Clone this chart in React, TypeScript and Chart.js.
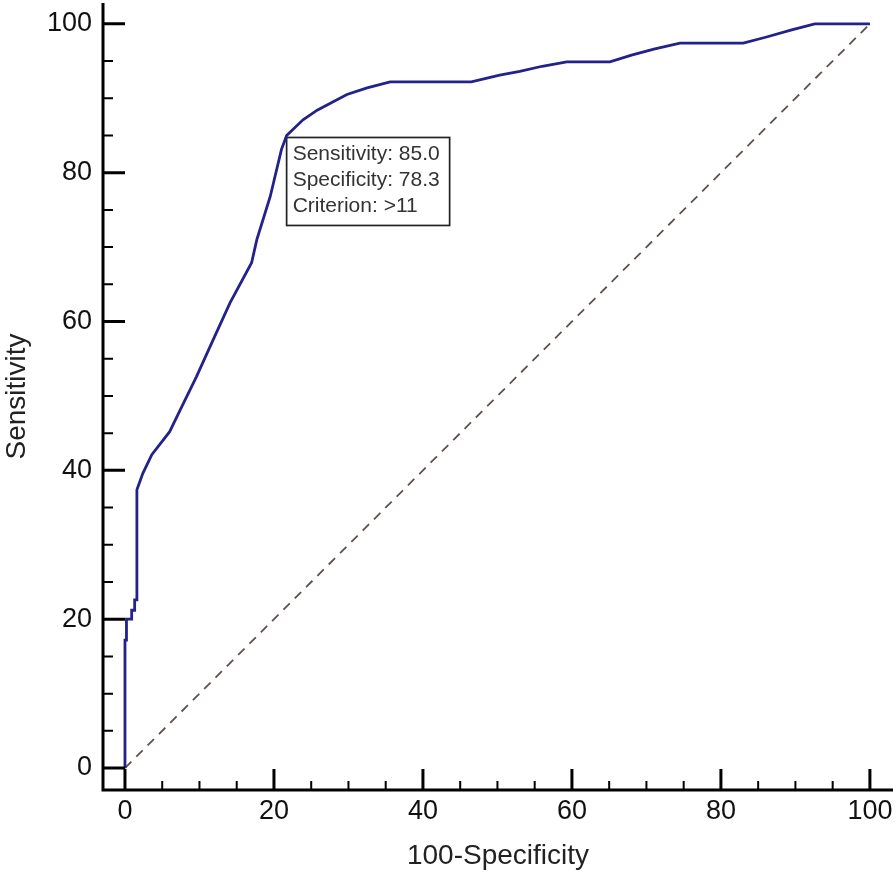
import React, { useEffect, useRef } from "react";
import { Chart, registerables } from "chart.js";

Chart.register(...registerables);

// ROC curve: 100-Specificity (x) vs Sensitivity (y)
const ROC_X = [0, 0, 0.2, 0.2, 0.9, 0.9, 1.3, 1.3, 1.6, 1.6, 2.4, 3.6, 6.0, 7.4, 9.6, 12.0, 14.1, 17.0, 17.7, 19.5, 21.0, 21.7, 23.9, 25.8, 27.7, 29.8, 32.5, 35.6, 46.5, 50.3, 53.0, 56.0, 59.3, 65.1, 68.0, 71.0, 74.5, 83.0, 86.0, 89.5, 92.6, 100];
const ROC_Y = [0, 17.2, 17.2, 20, 20, 21.2, 21.2, 22.6, 22.6, 37.4, 39.6, 42.1, 45.2, 48.1, 52.6, 57.9, 62.5, 67.9, 71.0, 76.8, 83.1, 85.0, 87.1, 88.4, 89.4, 90.5, 91.4, 92.2, 92.2, 93.1, 93.6, 94.3, 94.9, 94.9, 95.8, 96.6, 97.4, 97.4, 98.2, 99.2, 100, 100];

// Reference (chance) line
const DIAG_X = [0, 100];
const DIAG_Y = [0, 100];

// Axis ticks
const MAJOR_TICKS = [0, 20, 40, 60, 80, 100];
const MINOR_TICKS = [5, 10, 15, 25, 30, 35, 45, 50, 55, 65, 70, 75, 85, 90, 95];

// Optimal cut-off annotation
const CUTOFF_SENS = 85.0;
const CUTOFF_SPEC = 78.3;
const CUTOFF_CRITERION = ">11";
const CUTOFF_LINES = [
  `Sensitivity: ${CUTOFF_SENS.toFixed(1)}`,
  `Specificity: ${CUTOFF_SPEC.toFixed(1)}`,
  `Criterion: ${CUTOFF_CRITERION}`,
];

const FONT = "'Liberation Sans', Arial, sans-serif";

const axesPlugin = {
  id: "medcalcAxes",
  beforeDatasetsDraw(chart: any) {
    const { ctx, scales } = chart;
    const xs = scales.x;
    const ys = scales.y;
    const px = xs.getPixelForValue(100 - CUTOFF_SPEC);
    const py = ys.getPixelForValue(CUTOFF_SENS) + 2;
    ctx.save();
    ctx.font = `21px ${FONT}`;
    let maxW = 0;
    CUTOFF_LINES.forEach((t) => (maxW = Math.max(maxW, ctx.measureText(t).width)));
    const w = Math.round(maxW + 16);
    const h = 88;
    ctx.fillStyle = "#ffffff";
    ctx.fillRect(px, py, w, h);
    ctx.strokeStyle = "#222";
    ctx.lineWidth = 1.7;
    ctx.strokeRect(px, py, w, h);
    ctx.fillStyle = "#333";
    ctx.textBaseline = "middle";
    ctx.textAlign = "left";
    CUTOFF_LINES.forEach((t, i) => ctx.fillText(t, px + 6, py + 17 + i * 26));
    ctx.restore();
  },
  afterDraw(chart: any) {
    const { ctx, chartArea, scales } = chart;
    const { left, right, top, bottom } = chartArea;
    const xs = scales.x;
    const ys = scales.y;
    ctx.save();
    ctx.strokeStyle = "#000";
    ctx.lineCap = "butt";
    ctx.lineWidth = 3;
    ctx.beginPath();
    ctx.moveTo(left, top);
    ctx.lineTo(left, bottom + 1.5);
    ctx.moveTo(left - 1.5, bottom);
    ctx.lineTo(right, bottom);
    ctx.stroke();
    // major ticks (inward)
    ctx.lineWidth = 3;
    ctx.beginPath();
    MAJOR_TICKS.forEach((v) => {
      const yy = ys.getPixelForValue(v);
      ctx.moveTo(left, yy);
      ctx.lineTo(left + 22, yy);
      const xx = xs.getPixelForValue(v);
      ctx.moveTo(xx, bottom);
      ctx.lineTo(xx, bottom - 21);
    });
    ctx.stroke();
    ctx.lineWidth = 2;
    ctx.beginPath();
    MINOR_TICKS.forEach((v) => {
      const yy = ys.getPixelForValue(v);
      ctx.moveTo(left, yy);
      ctx.lineTo(left + 10, yy);
      const xx = xs.getPixelForValue(v);
      ctx.moveTo(xx, bottom);
      ctx.lineTo(xx, bottom - 9);
    });
    ctx.stroke();
    ctx.restore();
  },
};

function setTicks(scale: any) {
  scale.ticks = MAJOR_TICKS.map((v) => ({ value: v }));
}

export default function App() {
  const ref = useRef<HTMLCanvasElement | null>(null);

  useEffect(() => {
    document.body.style.margin = "0";
    const canvas = ref.current;
    if (!canvas) return;
    const chart = new Chart(canvas, {
      type: "scatter",
      data: {
        datasets: [
          {
            data: DIAG_X.map((x, i) => ({ x, y: DIAG_Y[i] })),
            showLine: true,
            borderColor: "#5e504b",
            borderWidth: 1.8,
            borderDash: [9, 7],
            pointRadius: 0,
            order: 2,
          },
          {
            data: ROC_X.map((x, i) => ({ x, y: ROC_Y[i] })),
            showLine: true,
            borderColor: "#22228a",
            borderWidth: 2.8,
            pointRadius: 0,
            tension: 0,
            order: 1,
          },
        ],
      },
      options: {
        responsive: false,
        animation: false,
        devicePixelRatio: 1,
        layout: { padding: { top: 3, right: 3, left: 0, bottom: 0 } },
        plugins: { legend: { display: false }, tooltip: { enabled: false } },
        scales: {
          x: {
            type: "linear",
            min: -2.95,
            max: 103.1,
            grid: { display: false, drawTicks: false },
            border: { display: false },
            afterBuildTicks: setTicks,
            afterFit: (s: any) => {
              s.height = 91;
              s.paddingLeft = 0;
              s.paddingRight = 0;
            },
            ticks: {
              padding: 5,
              maxRotation: 0,
              autoSkip: false,
              color: "#111",
              font: { family: FONT, size: 27 },
            },
            title: {
              display: true,
              text: "100-Specificity",
              color: "#222",
              font: { family: FONT, size: 28 },
              padding: { top: 0, bottom: 8 },
            },
          },
          y: {
            type: "linear",
            min: -2.95,
            max: 102.8,
            grid: { display: false, drawTicks: false },
            border: { display: false },
            afterBuildTicks: setTicks,
            afterFit: (s: any) => {
              s.width = 103;
              s.paddingTop = 0;
              s.paddingBottom = 0;
            },
            ticks: {
              padding: 11,
              autoSkip: false,
              color: "#111",
              font: { family: FONT, size: 27 },
            },
            title: {
              display: true,
              text: "Sensitivity",
              color: "#222",
              font: { family: FONT, size: 28 },
              padding: { top: 0, bottom: 0 },
            },
          },
        },
      },
      plugins: [axesPlugin],
    });
    return () => chart.destroy();
  }, []);

  return (
    <div style={{ width: 896, height: 881, background: "#fff" }}>
      <canvas ref={ref} width={896} height={881} style={{ display: "block" }} />
    </div>
  );
}
